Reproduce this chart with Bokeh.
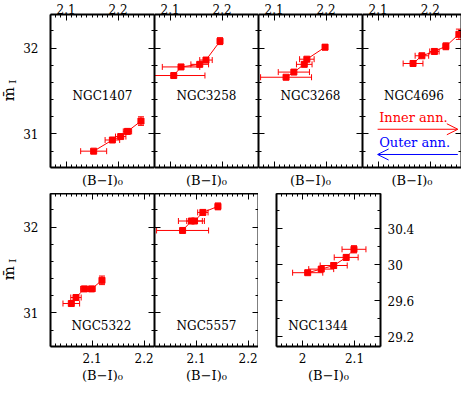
import math
import numpy as np
from bokeh.plotting import figure
from bokeh.layouts import row, column
from bokeh.models import (LinearAxis, Range1d, SingleIntervalTicker, Label, Arrow, OpenHead)
from bokeh.core.properties import value
from bokeh.embed import file_html
from bokeh.resources import INLINE

# ---------------- data ----------------
names = ["NGC1407", "NGC3258", "NGC3268", "NGC4696", "NGC5322", "NGC5557", "NGC1344"]

ngc1407_bi = [2.153, 2.189, 2.205, 2.218, 2.244]
ngc1407_m = [30.80, 30.93, 30.97, 31.03, 31.15]
ngc1407_ebi = [0.025, 0.014, 0.010, 0.008, 0.005]
ngc1407_em = [0.02, 0.02, 0.02, 0.03, 0.05]

ngc3258_bi = [2.107, 2.121, 2.157, 2.169, 2.196]
ngc3258_m = [31.68, 31.78, 31.81, 31.86, 32.08]
ngc3258_ebi = [0.060, 0.036, 0.017, 0.012, 0.004]
ngc3258_em = [0.02, 0.02, 0.02, 0.03, 0.04]

ngc3268_bi = [2.123, 2.138, 2.158, 2.163, 2.198]
ngc3268_m = [31.66, 31.72, 31.81, 31.87, 32.01]
ngc3268_ebi = [0.049, 0.030, 0.015, 0.014, 0.004]
ngc3268_em = [0.02, 0.02, 0.02, 0.02, 0.03]

ngc4696_bi = [2.167, 2.184, 2.208, 2.230, 2.255]
ngc4696_m = [31.82, 31.91, 31.96, 32.02, 32.16]
ngc4696_ebi = [0.019, 0.013, 0.009, 0.005, 0.004]
ngc4696_em = [0.02, 0.02, 0.03, 0.04, 0.06]

ngc5322_bi = [2.060, 2.069, 2.085, 2.099, 2.119]
ngc5322_m = [31.11, 31.18, 31.28, 31.28, 31.38]
ngc5322_ebi = [0.016, 0.010, 0.007, 0.007, 0.004]
ngc5322_em = [0.02, 0.02, 0.03, 0.03, 0.05]

ngc5557_bi = [2.074, 2.091, 2.097, 2.113, 2.142]
ngc5557_m = [31.96, 32.07, 32.07, 32.17, 32.24]
ngc5557_ebi = [0.050, 0.025, 0.015, 0.010, 0.005]
ngc5557_em = [0.02, 0.02, 0.02, 0.03, 0.04]

ngc1344_bi = [2.010, 2.036, 2.060, 2.084, 2.099]
ngc1344_m = [29.91, 29.95, 29.99, 30.08, 30.17]
ngc1344_ebi = [0.029, 0.024, 0.026, 0.023, 0.023]
ngc1344_em = [0.02, 0.02, 0.03, 0.03, 0.04]

xrange_top = (2.07, 2.27)
xrange_top_last = (2.07, 2.26)
xrange_bot = (2.02, 2.22)
xrange_1344 = (1.95, 2.15)
yrange_main = (30.61, 32.39)
yrange_1344 = (29.09, 30.79)

# tick labels written without trailing zeros, as in the reference
label_overrides = {2: "2", 30: "30", 31: "31", 32: "32"}

xlabel = "(B\u2212I)\u2080"
ylabel_main = "m\u0304"
ylabel_sub = "I"
legend_texts = ["Inner ann.", "Outer ann."]

SERIF = "DejaVu Serif"
RED = "#ff0000"
BLUE = "#0000ff"

FW = 104
FH = 153
YLW = 20  # width of the strip that carries the y-axis title


def mk_axis(interval, nminor, labels, font_size="12px", standoff=6, axis_label=None,
            axis_label_standoff=5):
    ax = LinearAxis(ticker=SingleIntervalTicker(interval=interval, num_minor_ticks=nminor))
    ax.axis_line_color = "black"
    ax.axis_line_width = 2
    ax.major_tick_in = 6
    ax.major_tick_out = 0
    ax.minor_tick_in = 3
    ax.minor_tick_out = 0
    ax.major_tick_line_color = "black"
    ax.minor_tick_line_color = "black"
    if labels:
        ax.major_label_overrides = dict(label_overrides)
        ax.major_label_text_font = SERIF
        ax.major_label_text_font_size = font_size
        ax.major_label_text_color = "black"
        ax.major_label_standoff = standoff
    else:
        ax.major_label_text_font_size = "1px"
        ax.major_label_text_color = None
        ax.major_label_standoff = 0
    if axis_label:
        ax.axis_label = axis_label
        ax.axis_label_text_font = SERIF
        ax.axis_label_text_font_size = "13px"
        ax.axis_label_text_font_style = "normal"
        ax.axis_label_text_color = "black"
        ax.axis_label_standoff = axis_label_standoff
    return ax


def panel(xr, yr, fw, borders, top_labels=False, bottom_labels=False, left_labels=False,
          right_labels=False, xlab=None, yint=1.0, yminor=5, bottom_label_standoff=5):
    bl, br, bt, bb = borders
    p = figure(frame_width=fw, frame_height=FH, x_range=Range1d(*xr), y_range=Range1d(*yr),
               x_axis_location=None, y_axis_location=None, toolbar_location=None,
               output_backend="svg", min_border_left=bl, min_border_right=br,
               min_border_top=bt, min_border_bottom=bb)
    p.grid.visible = False
    p.outline_line_color = None
    p.add_layout(mk_axis(0.1, 10, top_labels, standoff=1), "above")
    p.add_layout(mk_axis(0.1, 10, bottom_labels, standoff=6, axis_label=xlab,
                         axis_label_standoff=bottom_label_standoff), "below")
    p.add_layout(mk_axis(yint, yminor, left_labels, standoff=12), "left")
    p.add_layout(mk_axis(yint, yminor, right_labels, standoff=7), "right")
    return p


def ylabel_strip(yr, bt, bb):
    s = figure(frame_width=YLW, frame_height=FH, x_range=Range1d(0, 1), y_range=Range1d(*yr),
               x_axis_location=None, y_axis_location=None, toolbar_location=None,
               output_backend="svg", min_border_left=0, min_border_right=0,
               min_border_top=bt, min_border_bottom=bb)
    s.grid.visible = False
    s.outline_line_color = None
    ymid = yr[0] + 0.48 * (yr[1] - yr[0])
    ysub = yr[0] + 0.56 * (yr[1] - yr[0])
    s.text(x=[0.42], y=[ymid], text=[ylabel_main], angle=math.pi / 2, text_align="center",
           text_baseline="middle", text_font=value(SERIF), text_font_size="15px",
           text_color="black")
    s.text(x=[0.58], y=[ysub], text=[ylabel_sub], angle=math.pi / 2, text_align="center",
           text_baseline="middle", text_font=value(SERIF), text_font_size="10px",
           text_color="black")
    return s


def draw(p, bi, m, ebi, em):
    bi = np.array(bi); m = np.array(m); ebi = np.array(ebi); em = np.array(em)
    p.segment(x0=bi - ebi, x1=bi + ebi, y0=m, y1=m, line_color=RED, line_width=1)
    p.scatter(x=np.concatenate([bi - ebi, bi + ebi]), y=np.concatenate([m, m]),
              marker="dash", angle=math.pi / 2, size=6, line_color=RED, line_width=1)
    p.segment(x0=bi, x1=bi, y0=m - em, y1=m + em, line_color=RED, line_width=1)
    p.scatter(x=np.concatenate([bi, bi]), y=np.concatenate([m - em, m + em]),
              marker="dash", size=6, line_color=RED, line_width=1)
    p.line(bi, m, line_color=RED, line_width=1)
    p.scatter(bi, m, marker="square", size=6, color=RED)


def name_label(p, xr, yr, text, fx, fy):
    p.add_layout(Label(x=xr[0] + fx * (xr[1] - xr[0]), y=yr[0] + fy * (yr[1] - yr[0]),
                       text=text, text_align="center", text_baseline="middle",
                       text_font=SERIF, text_font_size="12px", text_color="black"))


# ---------------- top row ----------------
TB = (12, 26)
s1 = ylabel_strip(yrange_main, *TB)
p1 = panel(xrange_top, yrange_main, FW, (28, 0) + TB, top_labels=True, left_labels=True, xlab=xlabel)
draw(p1, ngc1407_bi, ngc1407_m, ngc1407_ebi, ngc1407_em)
name_label(p1, xrange_top, yrange_main, names[0], 0.5, 0.47)

p2 = panel(xrange_top, yrange_main, FW, (0, 0) + TB, top_labels=True, xlab=xlabel)
draw(p2, ngc3258_bi, ngc3258_m, ngc3258_ebi, ngc3258_em)
name_label(p2, xrange_top, yrange_main, names[1], 0.5, 0.47)

p3 = panel(xrange_top, yrange_main, FW, (0, 0) + TB, top_labels=True, xlab=xlabel)
draw(p3, ngc3268_bi, ngc3268_m, ngc3268_ebi, ngc3268_em)
name_label(p3, xrange_top, yrange_main, names[2], 0.5, 0.47)

p4 = panel(xrange_top_last, yrange_main, 99, (0, 0) + TB, top_labels=True, xlab=xlabel)
draw(p4, ngc4696_bi, ngc4696_m, ngc4696_ebi, ngc4696_em)
xr4, yr4 = xrange_top_last, yrange_main
name_label(p4, xr4, yr4, names[3], 0.52, 0.47)
sx = lambda f: xr4[0] + f * (xrange_top[1] - xrange_top[0])
sy = lambda f: yr4[0] + f * (yr4[1] - yr4[0])
p4.add_layout(Label(x=sx(0.16), y=sy(0.33), text=legend_texts[0], text_align="left",
                    text_baseline="middle", text_font=SERIF, text_font_size="13px",
                    text_color=RED))
p4.add_layout(Label(x=sx(0.16), y=sy(0.165), text=legend_texts[1], text_align="left",
                    text_baseline="middle", text_font=SERIF, text_font_size="13px",
                    text_color=BLUE))
p4.add_layout(Arrow(end=OpenHead(size=11, line_color=RED, line_width=1),
                    x_start=sx(0.145), y_start=sy(0.25), x_end=sx(0.915), y_end=sy(0.25),
                    line_color=RED, line_width=1))
p4.add_layout(Arrow(end=OpenHead(size=11, line_color=BLUE, line_width=1),
                    x_start=sx(0.915), y_start=sy(0.085), x_end=sx(0.145), y_end=sy(0.085),
                    line_color=BLUE, line_width=1))

# ---------------- bottom row ----------------
BB = (0, 40)
s5 = ylabel_strip(yrange_main, *BB)
p5 = panel(xrange_bot, yrange_main, FW, (28, 0) + BB, bottom_labels=True, left_labels=True,
           xlab=xlabel, bottom_label_standoff=2)
draw(p5, ngc5322_bi, ngc5322_m, ngc5322_ebi, ngc5322_em)
name_label(p5, xrange_bot, yrange_main, names[4], 0.49, 0.135)

p6 = panel(xrange_bot, yrange_main, FW, (0, 0) + BB, bottom_labels=True, xlab=xlabel,
           bottom_label_standoff=2)
draw(p6, ngc5557_bi, ngc5557_m, ngc5557_ebi, ngc5557_em)
name_label(p6, xrange_bot, yrange_main, names[5], 0.5, 0.135)

p7 = panel(xrange_1344, yrange_1344, FW, (18, 40) + BB, bottom_labels=True, right_labels=True,
           xlab=xlabel, yint=0.4, yminor=2, bottom_label_standoff=2)
draw(p7, ngc1344_bi, ngc1344_m, ngc1344_ebi, ngc1344_em)
name_label(p7, xrange_1344, yrange_1344, names[6], 0.4, 0.135)

layout = column(row(s1, p1, p2, p3, p4), row(s5, p5, p6, p7))

open("out.html", "w").write(file_html(layout, INLINE))
